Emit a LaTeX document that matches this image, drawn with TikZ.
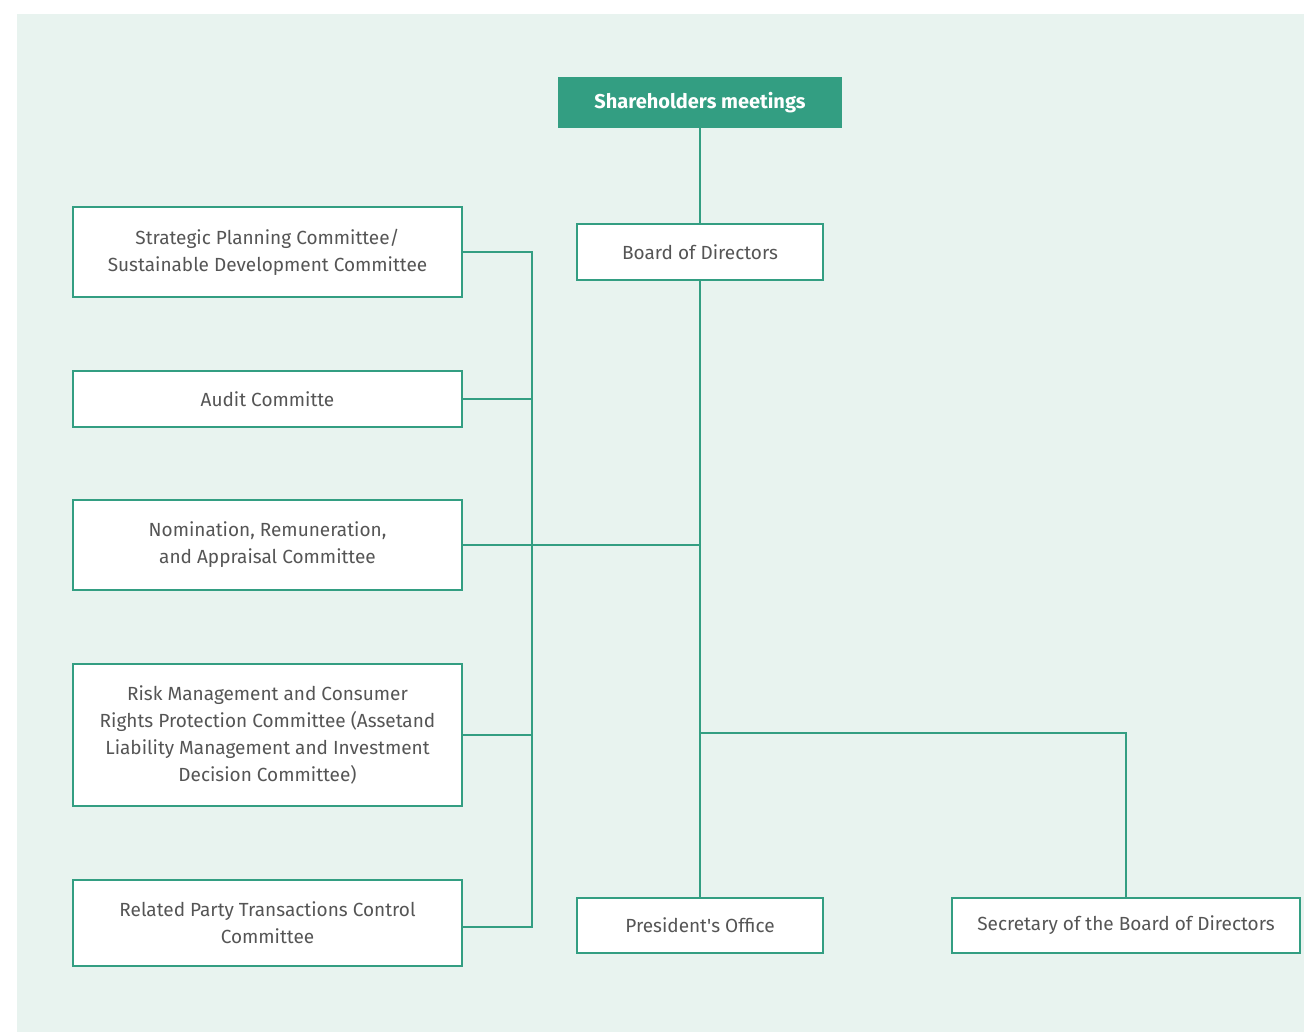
\documentclass[tikz,border=0pt]{standalone}
\usepackage{fontspec}
\setmainfont{Fira Sans}
\usepackage{xcolor}
\usetikzlibrary{positioning}
\definecolor{teal}{HTML}{339E82}
\definecolor{bgmint}{HTML}{E8F3EF}
\definecolor{txtgrey}{HTML}{555555}
\tikzset{
  unit/.style={draw=teal, line width=2pt, fill=white, text=txtgrey, align=center,
    font=\fontsize{19}{27}\selectfont, inner sep=0pt},
  link/.style={draw=teal, line width=2pt}
}
\begin{document}
\begin{tikzpicture}[x=1pt,y=-1pt]
    % background
    \useasboundingbox (0,0) rectangle (1304,1032);
    \fill[bgmint] (17,14) rectangle (1304,1032);
    % top of the tree
    \node[fill=teal, text=white, font=\fontsize{20}{24}\selectfont\bfseries,
      minimum width=284pt, minimum height=51pt, inner sep=0pt] (share) at (700,102.5) {Shareholders meetings};
    \node[unit, minimum width=246pt, minimum height=56pt] (board) at (700,252) {Board of Directors};
    % committees
    \node[unit, minimum width=389pt, minimum height=90pt] (strat) at (267.5,252) {Strategic Planning Committee/\\Sustainable Development Committee};
    \node[unit, minimum width=389pt, minimum height=56pt] (audit) at (267.5,399) {Audit Committe};
    \node[unit, minimum width=389pt, minimum height=90pt] (nomin) at (267.5,545) {Nomination, Remuneration,\\and Appraisal Committee};
    \node[unit, minimum width=389pt, minimum height=142pt] (risk) at (267.5,735) {Risk Management and Consumer\\Rights Protection Committee (Assetand\\Liability Management and Investment\\Decision Committee)};
    \node[unit, minimum width=389pt, minimum height=86pt] (party) at (267.5,923) {Related Party Transactions Control\\Committee};
    % offices
    \node[unit, minimum width=246pt, minimum height=55pt] (pres) at (700,925.5) {President\textquotesingle s Office};
    \node[unit, minimum width=348pt, minimum height=55pt] (secr) at (1126,925.5) {Secretary of the Board of Directors};
    % connectors
    \coordinate (bustop) at (532,252);
    \coordinate (busend) at (532,927);
    \coordinate (trunk) at (700,545);
    \coordinate (fork) at (700,733);
    \draw[link] (share) -- (board);
    \draw[link] (board) -- (pres);
    \draw[link] (strat.east) -- (bustop) -- (busend) -- (party.east |- busend);
    \foreach \n in {audit,risk}
    \draw[link] (\n.east) -- (\n.east -| bustop);
    \draw[link] (nomin.east) -- (trunk);
    \draw[link] (fork) -| (secr.north);
\end{tikzpicture}
\end{document}
